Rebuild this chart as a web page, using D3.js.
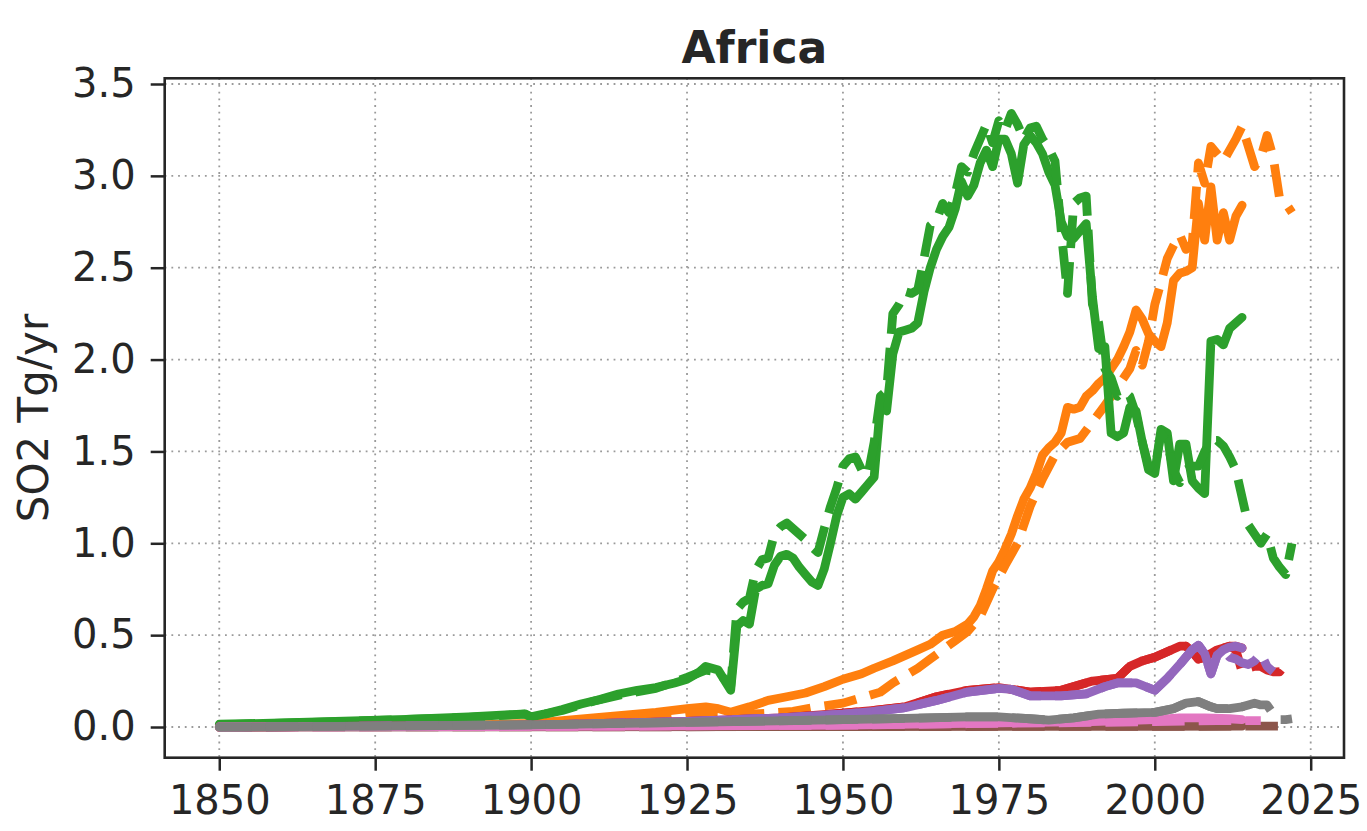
<!DOCTYPE html>
<html>
<head>
<meta charset="utf-8">
<script src="https://cdn.jsdelivr.net/npm/d3@7"></script>
<style>
  body { margin: 0; background: #fff; }
  text { font-family: "DejaVu Sans", sans-serif; fill: #262626; }
</style>
</head>
<body>
<svg id="chart" width="1367" height="831"></svg>
<script>
// SO2 emissions for Africa, solid = older inventory, dashed = newer inventory
const X_TICKS = [1850, 1875, 1900, 1925, 1950, 1975, 2000, 2025];
const Y_TICKS = [0.0, 0.5, 1.0, 1.5, 2.0, 2.5, 3.0, 3.5];

const orangeSolid = [[1850,0.0],[1870,0.003],[1890,0.01],[1900,0.02],[1905,0.035],[1910,0.05],[1915,0.065],[1920,0.08],[1925,0.1],[1928,0.11],[1930,0.1],[1932,0.08],[1935,0.11],[1938,0.145],[1941,0.165],[1944,0.185],[1947,0.22],[1950,0.26],[1953,0.29],[1955,0.32],[1958,0.36],[1960,0.39],[1962,0.42],[1964,0.45],[1966,0.5],[1968,0.52],[1970,0.56],[1971,0.6],[1972,0.66],[1973,0.75],[1974,0.85],[1975,0.9],[1976,0.97],[1977,1.05],[1978,1.15],[1979,1.24],[1980,1.3],[1981,1.38],[1982,1.48],[1983,1.52],[1984,1.55],[1985,1.6],[1986,1.74],[1987,1.73],[1988,1.74],[1989,1.8],[1990,1.83],[1991,1.87],[1992,1.9],[1993,1.95],[1994,2.0],[1995,2.07],[1996,2.15],[1997,2.27],[1998,2.22],[1999,2.14],[2000,2.1],[2001,2.07],[2002,2.2],[2003,2.43],[2004,2.47],[2005,2.48],[2006,2.5],[2007,2.85],[2008,2.65],[2009,2.94],[2010,2.65],[2011,2.8],[2012,2.65],[2013,2.78],[2014,2.84]];
const orangeDashed = [[1850,0.0],[1900,0.015],[1920,0.06],[1925,0.08],[1930,0.07],[1935,0.07],[1938,0.075],[1942,0.085],[1946,0.11],[1950,0.13],[1953,0.16],[1956,0.19],[1958,0.24],[1960,0.28],[1962,0.32],[1964,0.37],[1966,0.42],[1968,0.47],[1970,0.52],[1972,0.6],[1974,0.75],[1976,0.88],[1978,1.0],[1980,1.2],[1982,1.35],[1984,1.48],[1986,1.55],[1988,1.57],[1990,1.66],[1992,1.75],[1994,1.85],[1996,1.95],[1997,2.05],[1998,1.97],[1999,2.1],[2000,2.3],[2001,2.42],[2002,2.55],[2003,2.62],[2004,2.68],[2005,2.6],[2006,2.63],[2007,3.07],[2008,2.96],[2009,3.16],[2010,3.12],[2011,3.08],[2012,3.14],[2013,3.2],[2014,3.27],[2015,3.16],[2016,3.05],[2017,3.1],[2018,3.22],[2019,3.1],[2020,2.88],[2021,2.85],[2022,2.8]];

const greenSolid = [[1850,0.015],[1860,0.022],[1870,0.032],[1880,0.042],[1890,0.055],[1897,0.068],[1899,0.072],[1900,0.055],[1902,0.07],[1905,0.095],[1908,0.125],[1911,0.15],[1914,0.18],[1917,0.2],[1920,0.215],[1923,0.24],[1925,0.26],[1927,0.3],[1928,0.33],[1929,0.32],[1930,0.31],[1932,0.2],[1933,0.55],[1934,0.58],[1935,0.56],[1936,0.75],[1937,0.77],[1938,0.78],[1939,0.88],[1940,0.93],[1941,0.94],[1942,0.92],[1943,0.87],[1944,0.83],[1945,0.79],[1946,0.77],[1947,0.86],[1948,1.0],[1949,1.15],[1950,1.25],[1951,1.27],[1952,1.24],[1953,1.28],[1954,1.32],[1955,1.36],[1956,1.75],[1957,1.72],[1958,2.03],[1959,2.15],[1960,2.16],[1961,2.17],[1962,2.2],[1963,2.37],[1964,2.5],[1965,2.6],[1966,2.67],[1967,2.72],[1968,2.82],[1969,2.97],[1970,2.89],[1971,2.95],[1972,3.07],[1973,3.14],[1974,3.05],[1975,3.2],[1976,3.2],[1977,3.12],[1978,2.96],[1979,3.17],[1980,3.22],[1981,3.18],[1982,3.12],[1983,3.02],[1984,2.95],[1985,2.75],[1986,2.67],[1987,2.66],[1988,2.7],[1989,2.74],[1990,2.34],[1991,2.06],[1992,2.07],[1993,1.6],[1994,1.58],[1995,1.6],[1996,1.74],[1997,1.72],[1998,1.55],[1999,1.4],[2000,1.38],[2001,1.62],[2002,1.6],[2003,1.34],[2004,1.54],[2005,1.54],[2006,1.34],[2007,1.3],[2008,1.27],[2009,2.1],[2010,2.11],[2011,2.08],[2012,2.17],[2013,2.2],[2014,2.23]];
const greenDashed = [[1850,0.012],[1870,0.03],[1890,0.052],[1899,0.07],[1900,0.055],[1905,0.09],[1910,0.14],[1915,0.18],[1920,0.21],[1925,0.27],[1928,0.31],[1930,0.3],[1932,0.22],[1933,0.64],[1934,0.68],[1935,0.7],[1936,0.85],[1937,0.91],[1938,0.92],[1939,1.05],[1940,1.09],[1941,1.11],[1942,1.08],[1943,1.05],[1944,1.02],[1945,0.98],[1946,0.95],[1947,1.08],[1948,1.2],[1949,1.3],[1950,1.42],[1951,1.46],[1952,1.47],[1953,1.4],[1954,1.37],[1955,1.55],[1956,1.8],[1957,1.83],[1958,2.25],[1959,2.3],[1960,2.37],[1961,2.36],[1962,2.38],[1963,2.55],[1964,2.73],[1965,2.76],[1966,2.85],[1967,2.8],[1968,2.9],[1969,3.05],[1970,3.02],[1971,3.12],[1972,3.2],[1973,3.28],[1974,3.18],[1975,3.3],[1976,3.25],[1977,3.34],[1978,3.28],[1979,3.2],[1980,3.26],[1981,3.27],[1982,3.2],[1983,3.15],[1984,3.08],[1985,2.7],[1986,2.36],[1987,2.85],[1988,2.88],[1989,2.89],[1990,2.3],[1991,2.2],[1992,1.95],[1993,1.9],[1994,1.8],[1995,1.83],[1996,1.8],[1997,1.7],[1998,1.55],[1999,1.42],[2000,1.4],[2001,1.6],[2002,1.55],[2003,1.4],[2004,1.33],[2005,1.4],[2006,1.42],[2007,1.42],[2008,1.5],[2009,1.56],[2010,1.56],[2011,1.53],[2012,1.47],[2013,1.4],[2014,1.25],[2015,1.1],[2016,1.05],[2017,1.0],[2018,1.05],[2019,0.92],[2020,0.87],[2021,0.83],[2022,1.0]];

const redSolid = [[1850,0.0],[1900,0.01],[1925,0.03],[1940,0.05],[1950,0.075],[1955,0.09],[1960,0.11],[1965,0.165],[1970,0.2],[1975,0.215],[1980,0.19],[1985,0.2],[1990,0.25],[1994,0.265],[1996,0.33],[1998,0.36],[2000,0.38],[2002,0.41],[2004,0.44],[2005,0.44],[2006,0.41],[2007,0.37],[2008,0.38],[2010,0.42],[2012,0.44],[2013,0.44],[2014,0.43]];
const redDashed = [[1850,0.0],[1900,0.01],[1925,0.03],[1940,0.05],[1950,0.075],[1955,0.09],[1960,0.11],[1965,0.165],[1970,0.2],[1975,0.215],[1980,0.19],[1985,0.2],[1990,0.25],[1994,0.265],[1996,0.33],[1998,0.36],[2000,0.38],[2002,0.41],[2004,0.44],[2005,0.44],[2006,0.41],[2007,0.37],[2008,0.38],[2010,0.42],[2012,0.44],[2013,0.42],[2014,0.3],[2015,0.32],[2016,0.33],[2017,0.33],[2018,0.31],[2019,0.3],[2020,0.3],[2021,0.34],[2022,0.33]];

const purpleSolid = [[1850,0.0],[1900,0.01],[1925,0.03],[1940,0.05],[1950,0.07],[1955,0.085],[1960,0.105],[1965,0.145],[1970,0.19],[1975,0.21],[1977,0.205],[1980,0.17],[1985,0.17],[1989,0.18],[1992,0.22],[1994,0.24],[1997,0.24],[2000,0.2],[2002,0.265],[2004,0.34],[2005,0.38],[2006,0.42],[2007,0.445],[2008,0.4],[2009,0.29],[2010,0.39],[2011,0.42],[2012,0.435],[2013,0.44],[2014,0.43]];
const purpleDashed = [[1850,0.0],[1900,0.01],[1925,0.03],[1940,0.05],[1950,0.07],[1955,0.085],[1960,0.105],[1965,0.145],[1970,0.19],[1975,0.21],[1977,0.205],[1980,0.17],[1985,0.17],[1989,0.18],[1992,0.22],[1994,0.24],[1997,0.24],[2000,0.2],[2002,0.265],[2004,0.34],[2005,0.38],[2006,0.42],[2007,0.445],[2008,0.4],[2009,0.29],[2010,0.39],[2011,0.42],[2012,0.38],[2013,0.37],[2014,0.35],[2015,0.34],[2016,0.36],[2017,0.4],[2018,0.33],[2019,0.3]];

const brownSolid = [[1850,0.0],[1950,0.002],[2000,0.004],[2014,0.005]];
const brownDashed = [[1850,0.0],[1950,0.002],[2000,0.004],[2022,0.005]];

const pinkSolid = [[1850,0.0],[1900,0.003],[1950,0.01],[1970,0.02],[1990,0.03],[2000,0.04],[2004,0.05],[2008,0.05],[2012,0.045],[2014,0.04]];
const pinkDashed = [[1850,0.0],[1900,0.003],[1950,0.01],[1970,0.018],[1990,0.025],[2000,0.03],[2010,0.035],[2017,0.035]];

const graySolid = [[1850,0.0],[1875,0.005],[1900,0.012],[1925,0.025],[1950,0.04],[1960,0.047],[1970,0.055],[1975,0.055],[1980,0.045],[1983,0.038],[1987,0.05],[1991,0.07],[1995,0.075],[2000,0.08],[2003,0.1],[2005,0.13],[2007,0.138],[2009,0.11],[2010,0.1],[2012,0.1],[2014,0.11]];
const grayDashed = [[1850,0.0],[1875,0.005],[1900,0.012],[1925,0.025],[1950,0.04],[1960,0.047],[1970,0.055],[1975,0.055],[1980,0.045],[1983,0.038],[1987,0.05],[1991,0.07],[1995,0.075],[2000,0.08],[2003,0.1],[2005,0.13],[2007,0.138],[2009,0.11],[2010,0.1],[2012,0.1],[2014,0.11],[2015,0.12],[2016,0.13],[2017,0.12],[2018,0.12],[2019,0.07],[2020,0.04],[2021,0.04],[2022,0.045]];

const SERIES = [
	{ name: "orange", color: "#ff7f0e", solid: orangeSolid, dashed: orangeDashed },
	{ name: "green",  color: "#2ca02c", solid: greenSolid,  dashed: greenDashed },
	{ name: "red",    color: "#d62728", solid: redSolid,    dashed: redDashed },
	{ name: "purple", color: "#9467bd", solid: purpleSolid, dashed: purpleDashed },
	{ name: "brown",  color: "#8c564b", solid: brownSolid,  dashed: brownDashed },
	{ name: "pink",   color: "#e377c2", solid: pinkSolid,   dashed: pinkDashed },
	{ name: "gray",   color: "#7f7f7f", solid: graySolid,   dashed: grayDashed }
];

const LEFT = 164.7, RIGHT = 1344, TOP = 78.3, BOTTOM = 757.7;
const LINE_W = 8.8;

const svg = d3.select("#chart");

const x = d3.scaleLinear().domain([1841.25, 2030.34]).range([LEFT, RIGHT]);
const y = d3.scaleLinear().domain([-0.167, 3.531]).range([BOTTOM, TOP]);

//Dotted grid
const grid = svg.append("g").attr("class", "grid");
grid.selectAll("line.vx").data(X_TICKS).enter().append("line")
	.attr("x1", d => x(d)).attr("x2", d => x(d))
	.attr("y1", TOP).attr("y2", BOTTOM);
grid.selectAll("line.hy").data(Y_TICKS).enter().append("line")
	.attr("x1", LEFT).attr("x2", RIGHT)
	.attr("y1", d => y(d)).attr("y2", d => y(d));
grid.selectAll("line")
	.attr("stroke", "#9a9a9a")
	.attr("stroke-width", 1.8)
	.attr("stroke-dasharray", "1.8,4.9");

//Lines
const line = d3.line().x(d => x(d[0])).y(d => y(d[1]));
const plot = svg.append("g");
for (const s of SERIES)
{
	plot.append("path")
		.attr("d", line(s.solid))
		.attr("fill", "none")
		.attr("stroke", s.color)
		.attr("stroke-width", LINE_W)
		.attr("stroke-linejoin", "round")
		.attr("stroke-linecap", "round");
	plot.append("path")
		.attr("d", line(s.dashed))
		.attr("fill", "none")
		.attr("stroke", s.color)
		.attr("stroke-width", LINE_W)
		.attr("stroke-linejoin", "round")
		.attr("stroke-dasharray", (3.7 * LINE_W) + "," + (1.6 * LINE_W));
}

//Axes
const xAxis = svg.append("g")
	.attr("transform", "translate(0," + BOTTOM + ")")
	.call(d3.axisBottom(x).tickValues(X_TICKS).tickFormat(d3.format("d")).tickSize(13).tickPadding(15));
const yAxis = svg.append("g")
	.attr("transform", "translate(" + LEFT + ",0)")
	.call(d3.axisLeft(y).tickValues(Y_TICKS).tickFormat(d3.format(".1f")).tickSize(14).tickPadding(15));
for (const ax of [xAxis, yAxis])
{
	ax.select(".domain").remove();
	ax.selectAll(".tick line").attr("stroke", "#262626").attr("stroke-width", 2.5);
	ax.selectAll(".tick text").attr("fill", "#262626").style("font-size", "40px").style("font-family", "DejaVu Sans");
}

//Frame
svg.append("rect")
	.attr("x", LEFT).attr("y", TOP)
	.attr("width", RIGHT - LEFT).attr("height", BOTTOM - TOP)
	.attr("fill", "none")
	.attr("stroke", "#262626")
	.attr("stroke-width", 2.6);

//Title and label
svg.append("text")
	.attr("x", (LEFT + RIGHT) / 2).attr("y", 63)
	.attr("text-anchor", "middle")
	.style("font-size", "44px").style("font-weight", "bold")
	.text("Africa");
svg.append("text")
	.attr("transform", "translate(48," + ((TOP + BOTTOM) / 2) + ") rotate(-90)")
	.attr("text-anchor", "middle")
	.style("font-size", "42px")
	.text("SO2 Tg/yr");
</script>
</body>
</html>
